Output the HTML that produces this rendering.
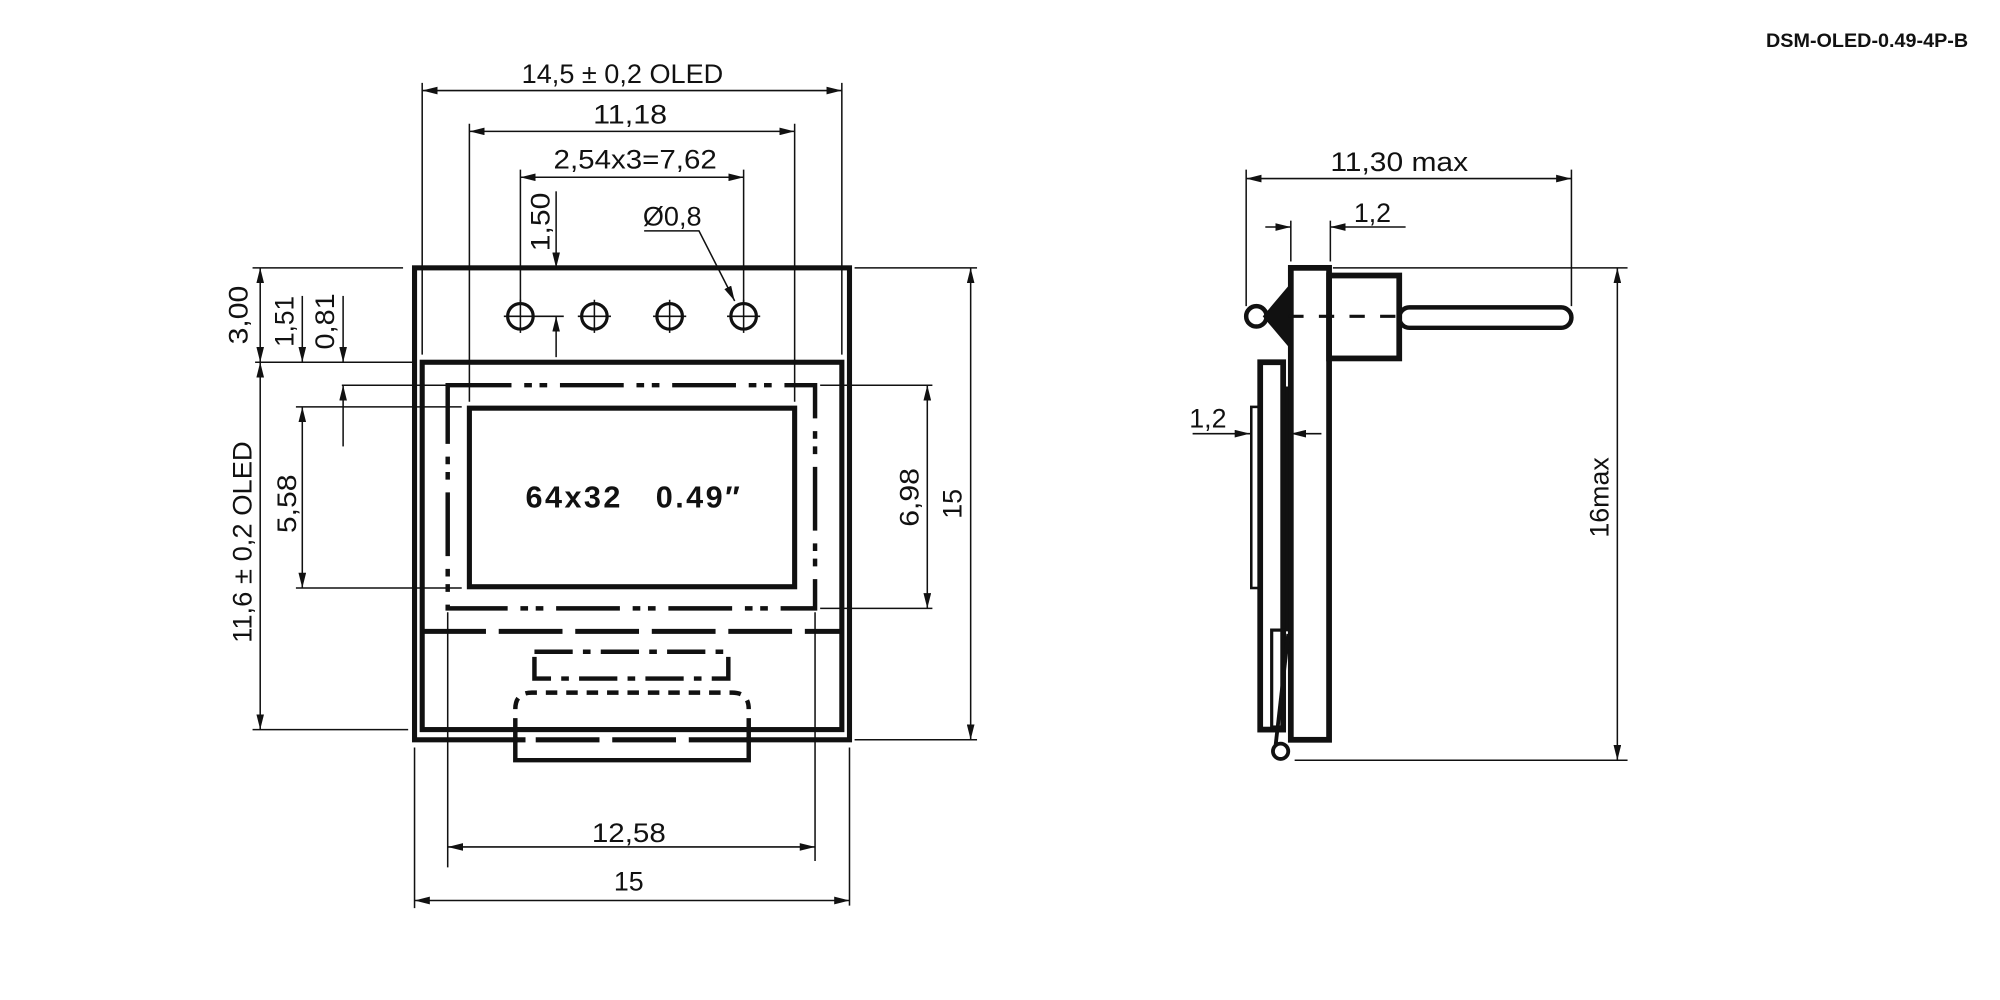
<!DOCTYPE html>
<html><head><meta charset="utf-8"><style>
html,body{margin:0;padding:0;background:#fff;}
svg{display:block}
text{font-family:"Liberation Sans",sans-serif;fill:#111;}
</style></head><body>
<svg width="2000" height="1000" viewBox="0 0 1568 784" xmlns="http://www.w3.org/2000/svg">
<defs>
<marker id="a" viewBox="0 0 12 6" refX="12" refY="3" markerWidth="12" markerHeight="6" markerUnits="userSpaceOnUse" orient="auto-start-reverse"><path d="M0,0 L12,3 L0,6 z" fill="#111"/></marker>
</defs>
<g stroke="#111" fill="none">
<!-- FRONT VIEW body -->
<rect x="325" y="210" width="341" height="370" stroke-width="4"/>
<rect x="331" y="284" width="329" height="288" stroke-width="4"/>
<rect x="351" y="302" width="288" height="175" stroke-width="3.5" stroke-dasharray="50,10,6,6,6,10"/>
<rect x="368" y="320" width="255" height="140" stroke-width="4"/>
<line x1="331" y1="495" x2="660" y2="495" stroke-width="4" stroke-dasharray="50,10"/>
<rect x="419" y="511" width="152" height="21" stroke-width="3.5" stroke-dasharray="30,8,6,8"/>
<path d="M404,556 Q404,543 417,543 L574,543 Q587,543 587,556" stroke-width="3.5" stroke-dasharray="9,7"/>
<rect x="406" y="574" width="179" height="10" fill="#fff" stroke="none"/>
<path d="M404,563 L404,596 L587,596 L587,563" stroke-width="3.5"/>
<line x1="404" y1="580" x2="587" y2="580" stroke-width="4" stroke-dasharray="8,8,50,10,50,10,50,10,50"/>
<line x1="404" y1="572" x2="587" y2="572" stroke-width="4"/>
<!-- holes -->
<g stroke-width="2.5">
<circle cx="408" cy="248" r="10"/><circle cx="466" cy="248" r="10"/><circle cx="525" cy="248" r="10"/><circle cx="583" cy="248" r="10"/>
</g>
<g stroke-width="1.2">
<line x1="395" y1="248" x2="421" y2="248"/><line x1="408" y1="235" x2="408" y2="261"/>
<line x1="453" y1="248" x2="479" y2="248"/><line x1="466" y1="235" x2="466" y2="261"/>
<line x1="512" y1="248" x2="538" y2="248"/><line x1="525" y1="235" x2="525" y2="261"/>
<line x1="570" y1="248" x2="596" y2="248"/><line x1="583" y1="235" x2="583" y2="261"/>
<line x1="421" y1="248" x2="442" y2="248"/>
<!-- extension lines -->
<line x1="331" y1="65" x2="331" y2="278"/><line x1="660" y1="65" x2="660" y2="278"/>
<line x1="368" y1="97" x2="368" y2="315"/><line x1="623" y1="97" x2="623" y2="315"/>
<line x1="408" y1="133" x2="408" y2="238"/><line x1="583" y1="133" x2="583" y2="238"/>
<line x1="331" y1="71" x2="660" y2="71" marker-start="url(#a)" marker-end="url(#a)"/>
<line x1="368" y1="103" x2="623" y2="103" marker-start="url(#a)" marker-end="url(#a)"/>
<line x1="408" y1="139" x2="583" y2="139" marker-start="url(#a)" marker-end="url(#a)"/>
<line x1="436" y1="150" x2="436" y2="210" marker-end="url(#a)"/>
<line x1="436" y1="280" x2="436" y2="248" marker-end="url(#a)"/>
<path d="M505,181 L548,181 L576,236" marker-end="url(#a)"/>
<!-- left dims -->
<line x1="198" y1="210" x2="316" y2="210"/>
<line x1="200" y1="284" x2="325" y2="284"/>
<line x1="268" y1="302" x2="351" y2="302"/>
<line x1="232" y1="319" x2="362" y2="319"/>
<line x1="232" y1="461" x2="362" y2="461"/>
<line x1="198" y1="572" x2="320" y2="572"/>
<line x1="204" y1="210" x2="204" y2="284" marker-start="url(#a)" marker-end="url(#a)"/>
<line x1="204" y1="284" x2="204" y2="572" marker-start="url(#a)" marker-end="url(#a)"/>
<line x1="237" y1="232" x2="237" y2="284" marker-end="url(#a)"/>
<line x1="237" y1="319" x2="237" y2="461" marker-start="url(#a)" marker-end="url(#a)"/>
<line x1="269" y1="232" x2="269" y2="284" marker-end="url(#a)"/>
<line x1="269" y1="350" x2="269" y2="302" marker-end="url(#a)"/>
<!-- right dims -->
<line x1="670" y1="210" x2="766" y2="210"/><line x1="670" y1="580" x2="766" y2="580"/>
<line x1="761" y1="210" x2="761" y2="580" marker-start="url(#a)" marker-end="url(#a)"/>
<line x1="643" y1="302" x2="731" y2="302"/><line x1="643" y1="477" x2="731" y2="477"/>
<line x1="727" y1="302" x2="727" y2="477" marker-start="url(#a)" marker-end="url(#a)"/>
<!-- bottom dims -->
<line x1="351" y1="480" x2="351" y2="680"/><line x1="639" y1="480" x2="639" y2="675"/>
<line x1="351" y1="664" x2="639" y2="664" marker-start="url(#a)" marker-end="url(#a)"/>
<line x1="325" y1="586" x2="325" y2="712"/><line x1="666" y1="586" x2="666" y2="710"/>
<line x1="325" y1="706" x2="666" y2="706" marker-start="url(#a)" marker-end="url(#a)"/>
</g>

<!-- SIDE VIEW -->
<rect x="1012" y="210" width="30" height="370" stroke-width="4.5"/>
<rect x="1042" y="216" width="55" height="65" stroke-width="4.5"/>
<rect x="1097" y="241" width="135" height="16" rx="8" stroke-width="3.5"/>
<circle cx="985" cy="248" r="8" stroke-width="3.5"/>
<path d="M1012,222 L990,248 L1012,274 Z" fill="#111" stroke="none"/>
<rect x="988" y="284" width="18" height="288" stroke-width="4.5"/>
<rect x="981" y="319" width="7" height="142" stroke-width="2"/>
<line x1="1009" y1="303" x2="1009" y2="495" stroke-width="2"/>
<rect x="997" y="494" width="9" height="76" stroke-width="2.5"/>
<line x1="1010" y1="497" x2="1000" y2="585" stroke-width="3"/>
<circle cx="1004" cy="589" r="6" stroke-width="3"/>
<g stroke-width="1.2">
<line x1="970" y1="248" x2="1240" y2="248" stroke-width="2.5" stroke-dasharray="0,40,12,12,12,12,12,12,12,1000"/>
<line x1="977" y1="133" x2="977" y2="240"/><line x1="1232" y1="133" x2="1232" y2="240"/>
<line x1="977" y1="140" x2="1232" y2="140" marker-start="url(#a)" marker-end="url(#a)"/>
<line x1="1012" y1="173" x2="1012" y2="205"/><line x1="1043" y1="173" x2="1043" y2="205"/>
<line x1="992" y1="178" x2="1012" y2="178" marker-end="url(#a)"/>
<line x1="1102" y1="178" x2="1043" y2="178" marker-end="url(#a)"/>
<line x1="935" y1="340" x2="980" y2="340" marker-end="url(#a)"/>
<line x1="1036" y1="340" x2="1012" y2="340" marker-end="url(#a)"/>
<line x1="1045" y1="210" x2="1276" y2="210"/><line x1="1015" y1="596" x2="1276" y2="596"/>
<line x1="1268" y1="210" x2="1268" y2="596" marker-start="url(#a)" marker-end="url(#a)"/>
</g>
</g>

<!-- texts -->
<g font-size="21" text-anchor="middle">
<text x="488" y="65" textLength="158" lengthAdjust="spacingAndGlyphs">14,5 ± 0,2 OLED</text>
<text x="494" y="97" textLength="58" lengthAdjust="spacingAndGlyphs">11,18</text>
<text x="498" y="132" textLength="128" lengthAdjust="spacingAndGlyphs">2,54x3=7,62</text>
<text x="527" y="177" textLength="46" lengthAdjust="spacingAndGlyphs">Ø0,8</text>
<text transform="translate(431,174) rotate(-90)" textLength="46" lengthAdjust="spacingAndGlyphs">1,50</text>
<text transform="translate(194,247) rotate(-90)" textLength="46" lengthAdjust="spacingAndGlyphs">3,00</text>
<text transform="translate(230,252) rotate(-90)" textLength="40" lengthAdjust="spacingAndGlyphs">1,51</text>
<text transform="translate(262,252) rotate(-90)" textLength="44" lengthAdjust="spacingAndGlyphs">0,81</text>
<text transform="translate(197,425) rotate(-90)" textLength="158" lengthAdjust="spacingAndGlyphs">11,6 ± 0,2 OLED</text>
<text transform="translate(232,395) rotate(-90)" textLength="46" lengthAdjust="spacingAndGlyphs">5,58</text>
<text transform="translate(720,390) rotate(-90)" textLength="46" lengthAdjust="spacingAndGlyphs">6,98</text>
<text transform="translate(754,395) rotate(-90)">15</text>
<text x="493" y="660" textLength="58" lengthAdjust="spacingAndGlyphs">12,58</text>
<text x="493" y="698">15</text>
<text x="1097" y="134" textLength="108" lengthAdjust="spacingAndGlyphs">11,30 max</text>
<text x="1076" y="174">1,2</text>
<text x="947" y="335">1,2</text>
<text transform="translate(1261,390) rotate(-90)">16max</text>
</g>
<text x="496" y="398" font-size="24" font-weight="bold" text-anchor="middle" textLength="168" lengthAdjust="spacing" xml:space="preserve">64x32   0.49″</text>
<text x="1543" y="37" font-size="15.5" font-weight="bold" text-anchor="end">DSM-OLED-0.49-4P-B</text>
</svg>
</body></html>
